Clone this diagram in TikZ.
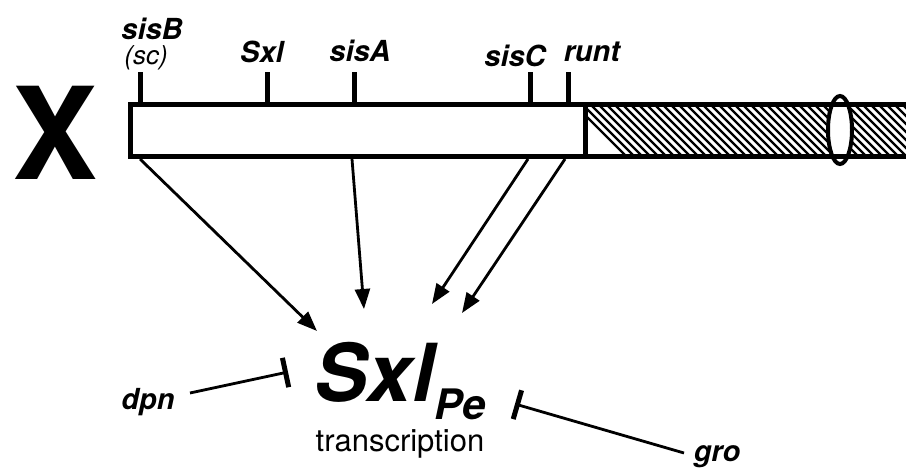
\documentclass[tikz,border=0pt]{standalone}
\usepackage{fontspec}
\setmainfont{TeX Gyre Heros}
\usetikzlibrary{arrows.meta}
\begin{document}
\begin{tikzpicture}[x=1pt,y=-1pt,
  lab/.style={font=\fontsize{29}{31}\selectfont\bfseries\itshape, inner sep=0pt, anchor=base},
  tickmark/.style={line width=5pt},
  act/.style={line width=2.8pt, -{Triangle[length=20pt,width=15pt]}},
  inh/.style={line width=2.8pt, -{Bar[width=30pt,line width=5pt]}}]
\useasboundingbox (0,0) rectangle (906,470);
% big X
\node[inner sep=0pt, anchor=base, font=\fontsize{128}{130}\selectfont\bfseries] (X) at (55,180) {X};
% hatched part
\begin{scope}
  \clip (585,105) rectangle (906,157);
  \foreach \i in {0,...,48} {
    \draw[line width=2.2pt] (575+8*\i,105) -- ++(52,52);
  }
\end{scope}
% ellipse
\draw[line width=4pt, fill=white] (840,130) ellipse [x radius=12, y radius=34];
% bar outline
\draw[line width=5pt, fill=white] (585,105) -- (130,105) -- (130,157) -- (585,157) -- cycle;
\draw[line width=5pt] (585,105) -- (906,105);
\draw[line width=5pt] (585,157) -- (906,157);
% ticks
\foreach \n/\x in {tB/140,tS/267,tA/354,tC/530,tR/568} {
  \coordinate (\n) at (\x,105);
  \draw[tickmark] (\n) -- ++(0,-33);
}
% labels
\node[lab] (sisB) at (152,40) {sisB};
\node[inner sep=0pt, anchor=base, font=\fontsize{26}{28}\selectfont\itshape] (sc) at (146,65) {(sc)};
\node[lab] (Sxl) at (262,63) {Sxl};
\node[lab] (sisA) at (360,62) {sisA};
\node[lab] (sisC) at (515,67) {sisC};
\node[lab] (runt) at (592,62) {runt};
% bottom starting points
\coordinate (bB) at (140,159);
\coordinate (bA) at (352,159);
\coordinate (bC) at (528,159);
\coordinate (bR) at (565,159);
% target points
\coordinate (eB) at (317,331);
\coordinate (eA) at (364,309);
\coordinate (eC) at (432,304);
\coordinate (eR) at (462,313);
\draw[act] (bB) -- (eB);
\draw[act] (bA) -- (eA);
\draw[act] (bC) -- (eC);
\draw[act] (bR) -- (eR);
% Sxl Pe
\node[inner sep=0pt, anchor=base west, font=\fontsize{80}{82}\selectfont\bfseries\itshape] (SxlPe) at (314,402) {Sxl};
\node[inner sep=0pt, anchor=base west, font=\fontsize{42}{44}\selectfont\bfseries\itshape] (Pe) at (SxlPe.base east) [yshift=-18pt] {Pe};
\node[inner sep=0pt, anchor=base, font=\fontsize{31}{33}\selectfont] (tr) at (400,452) {transcription};
% repressors
\node[lab] (dpn) at (148,410) {dpn};
\node[lab] (gro) at (717,462) {gro};
\coordinate (dS) at (190,393);
\coordinate (dE) at (288,372);
\coordinate (gS) at (684,453);
\coordinate (gE) at (515,404);
\draw[inh] (dS) -- (dE);
\draw[inh] (gS) -- (gE);
\end{tikzpicture}
\end{document}
